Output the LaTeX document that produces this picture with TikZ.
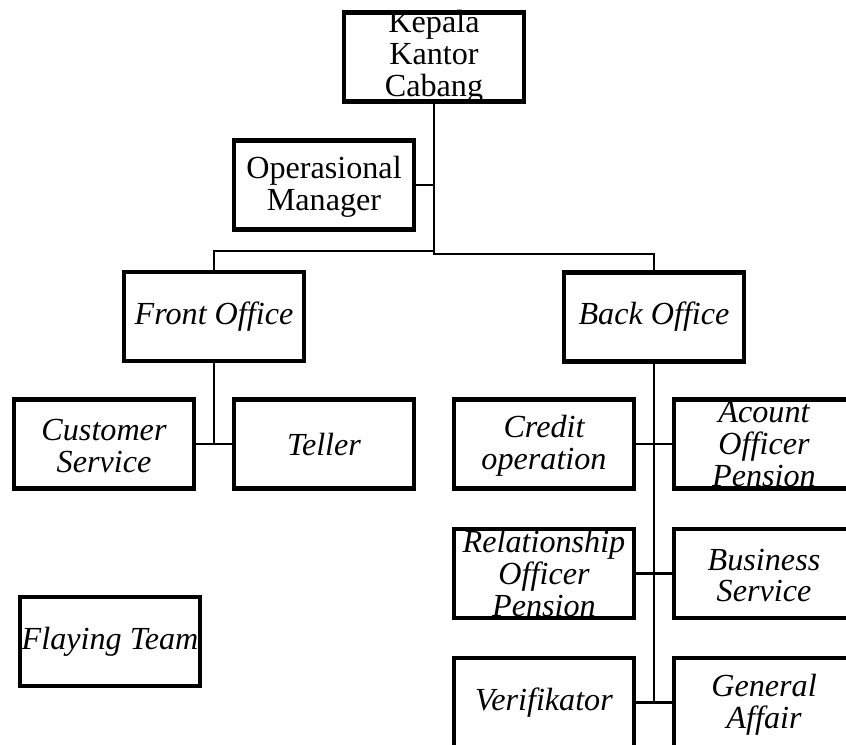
\documentclass[tikz,border=0pt]{standalone}
\usepackage{fontspec}
\setmainfont{Liberation Serif}
\tikzset{
	unit/.style={draw, line width=2.3pt, minimum width=3.6cm, minimum height=1.78cm, inner sep=0pt},
	txt/.style={align=center, inner sep=0pt, font=\fontsize{18.3}{18.2}\selectfont},
	itxt/.style={txt, font=\fontsize{18.3}{18.2}\selectfont\itshape},
	lower/.style={yshift=-0.04cm},
	link/.style={line width=1.2pt}
}
\begin{document}
\begin{tikzpicture}
		\useasboundingbox (0,0) rectangle (16.92,-14.9);
		\clip (0,0) rectangle (16.92,-14.9);
		% top of the chart
		\node[unit, label={[txt]center:{Kepala\\Kantor\\Cabang}}] (kkc) at (8.68,-1.14) {};
		\node[unit, label={[txt,lower]center:{Operasional\\Manager}}] (om) at (6.48,-3.70) {};
		\node[unit, label={[itxt]center:{Front Office}}] (fo) at (4.28,-6.33) {};
		\node[unit, label={[itxt]center:{Back Office}}] (bo) at (13.08,-6.34) {};
		% front office staff
		\node[unit, label={[itxt,lower]center:{Customer\\Service}}] (cs) at (2.08,-8.88) {};
		\node[unit, label={[itxt]center:{Teller}}] (tl) at (6.48,-8.88) {};
		\node[unit, label={[itxt]center:{Flaying Team}}] (ft) at (2.20,-12.83) {};
		% back office staff
		\node[unit, label={[itxt,lower]center:{Credit\\operation}}] (co) at (10.88,-8.88) {};
		\node[unit, label={[itxt]center:{Acount\\Officer\\Pension}}] (ao) at (15.28,-8.88) {};
		\node[unit, label={[itxt]center:{Relationship\\Officer\\Pension}}] (ro) at (10.88,-11.47) {};
		\node[unit, label={[itxt,lower]center:{Business\\Service}}] (bs) at (15.28,-11.47) {};
		\node[unit, label={[itxt]center:{Verifikator}}] (vf) at (10.88,-14.05) {};
		\node[unit, label={[itxt,lower]center:{General\\Affair}}] (ga) at (15.28,-14.05) {};
		% connectors
		\coordinate (jl) at (8.68,-5.02);
		\coordinate (jr) at (8.68,-5.08);
		\draw[link] (kkc.south) -- (jr) -| (bo.north);
		\draw[link] (jl) -| (fo.north);
		\draw[link] (om.east) -- (om.east -| kkc.south);
		\draw[link] (fo.south) -- (cs.east -| fo.south);
		\draw[link] (cs.east) -- (tl.west);
		\draw[link] (bo.south) -- (vf.east -| bo.south);
		\foreach \lft/\rgt in {co/ao,ro/bs,vf/ga} \draw[link] (\lft.east) -- (\rgt.west);
	\end{tikzpicture}
\end{document}
